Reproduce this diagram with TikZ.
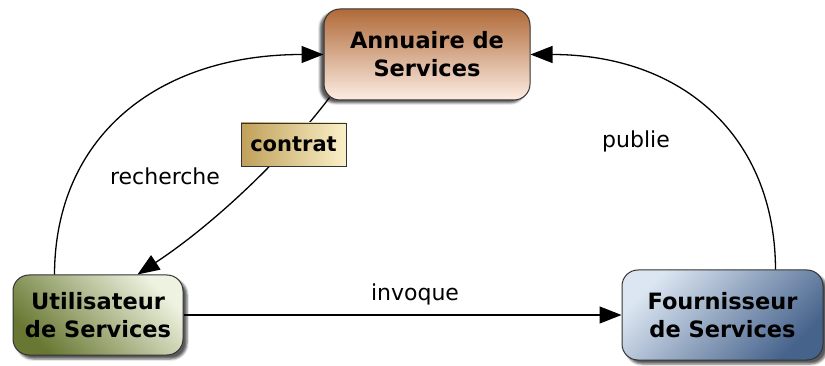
\documentclass[tikz,border=0pt]{standalone}
\usepackage{fontspec}
\setmainfont{DejaVu Sans}
\usetikzlibrary{arrows.meta,shadows.blur}
\definecolor{annTop}{HTML}{B06A38}
\definecolor{annBot}{HTML}{FDEDE4}
\definecolor{utilDark}{HTML}{687832}
\definecolor{utilLight}{HTML}{EEF2E0}
\definecolor{fourLight}{HTML}{DCE6F2}
\definecolor{fourDark}{HTML}{46638C}
\definecolor{conL}{HTML}{C0A05A}
\definecolor{conR}{HTML}{FAF0C8}
\begin{document}
\begin{tikzpicture}[x=1pt,y=-1pt,
  box/.style={draw=black!80, line width=1pt, rounded corners=16pt, align=center,
    font=\fontsize{22.5}{28}\selectfont\bfseries, inner sep=0pt},
  conn/.style={line width=1.3pt, -{Triangle[length=22pt,width=17pt]}},
  lbl/.style={font=\fontsize{22}{26}\selectfont}]
\useasboundingbox (0,0) rectangle (825,366);

\node[box, minimum width=206pt, minimum height=91pt, top color=annTop, bottom color=annBot,
  blur shadow={shadow xshift=-4pt,shadow yshift=-3pt,shadow opacity=65}] (a) at (427,54.5) {Annuaire de\\Services};
\node[box, minimum width=170pt, minimum height=80pt, top color=utilLight, bottom color=utilDark,
  shading angle=-45, blur shadow={shadow xshift=4pt,shadow yshift=-4pt,shadow opacity=65}] (u) at (98,315) {Utilisateur\\de Services};
\node[box, minimum width=201pt, minimum height=90pt, top color=fourLight, bottom color=fourDark,
  shading angle=45, blur shadow={shadow xshift=4pt,shadow yshift=-4pt,shadow opacity=65}] (f) at (722.5,315) {Fournisseur\\de Services};

\draw[conn] ([xshift=42pt]u.north west) .. controls (55,137) and (157,54.5) .. (a.west);
\draw[conn] ([xshift=-48pt]f.north east) .. controls (775,136) and (682,54.5) .. (a.east);
\draw[conn] ([shift={(6pt,3pt)}]a.south west) .. controls (290,150) and (220,220) .. ([xshift=125pt]u.north west);
\draw[conn] (u.east) -- (f.west);

\node[draw=black!80, line width=0.8pt, minimum width=105pt, minimum height=43pt, inner sep=0pt,
  left color=conL, right color=conR, font=\fontsize{21}{24}\selectfont\bfseries] (c) at (293.5,144.5) {contrat};

\node[lbl] (l1) at (165,176) {recherche};
\node[lbl] (l2) at (636,141) {publie};
\node[lbl] (l3) at (415,294) {invoque};
\end{tikzpicture}
\end{document}
